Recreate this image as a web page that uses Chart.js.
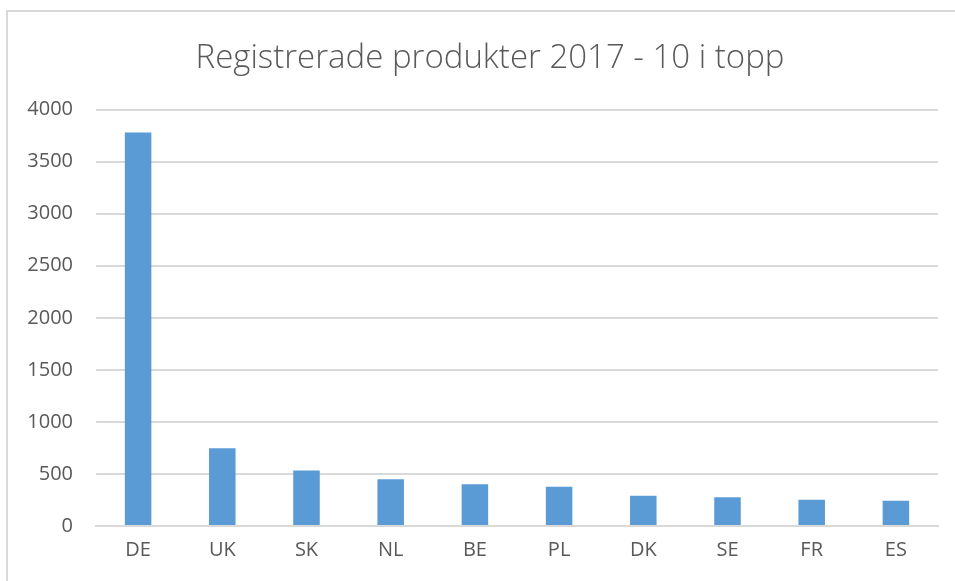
<!DOCTYPE html>
<html>
<head>
<meta charset="utf-8">
<script src="https://cdn.jsdelivr.net/npm/chart.js@4/dist/chart.umd.min.js"></script>
<style>
  html, body { margin: 0; padding: 0; background: #fff; }
  #wrap { position: relative; width: 955px; height: 581px; }
  #frame { position: absolute; left: 6px; top: 10px; width: 949px; height: 571px;
           border-left: 2px solid #d9d9d9; border-top: 2px solid #d9d9d9; box-sizing: border-box; pointer-events: none; }
  canvas { position: absolute; left: 0; top: 0; }
</style>
</head>
<body>
<div id="wrap">
  <canvas id="c" width="955" height="581"></canvas>
  <div id="frame"></div>
</div>
<script>
const titleText = "Registrerade produkter 2017 - 10 i topp";
const categories = ["DE", "UK", "SK", "NL", "BE", "PL", "DK", "SE", "FR", "ES"];
const values = [3780, 747, 534, 449, 401, 376, 290, 277, 252, 242];
const yTicks = [0, 500, 1000, 1500, 2000, 2500, 3000, 3500, 4000];

const textColor = "#595959";
const gridColor = "#d9d9d9";
const barColor = "#5b9bd5";

const shiftTitle = {
  id: "shiftTitle",
  afterLayout(chart) {
    if (chart.titleBlock) { chart.titleBlock.left = 42; }
  }
};

new Chart(document.getElementById("c"), {
  type: "bar",
  data: {
    labels: categories,
    datasets: [{
      data: values,
      backgroundColor: barColor,
      borderWidth: 0,
      barPercentage: 0.315,
      categoryPercentage: 1.0
    }]
  },
  plugins: [shiftTitle],
  options: {
    responsive: false,
    animation: false,
    layout: { padding: { left: 0, right: 17, top: 0, bottom: 0 } },
    plugins: {
      legend: { display: false },
      tooltip: { enabled: false },
      title: {
        display: true,
        text: titleText,
        color: textColor,
        font: { family: "'Open Sans', sans-serif", size: 33, weight: 300 },
        padding: { top: 39, bottom: 31 }
      }
    },
    scales: {
      x: {
        grid: { display: false, drawTicks: false },
        border: { display: true, color: gridColor, width: 2 },
        ticks: { color: textColor, font: { family: "'Open Sans', sans-serif", size: 20 }, padding: 12 },
        afterFit: s => { s.height = 55; }
      },
      y: {
        min: 0, max: 4000,
        afterBuildTicks: s => { s.ticks = yTicks.map(v => ({ value: v })); },
        grid: { color: gridColor, lineWidth: 2, drawTicks: false },
        border: { display: false },
        ticks: { color: textColor, font: { family: "'Open Sans', sans-serif", size: 20 }, padding: 23,
                 callback: v => String(v) },
        afterFit: s => { s.width = 96; }
      }
    }
  }
});
</script>
</body>
</html>
